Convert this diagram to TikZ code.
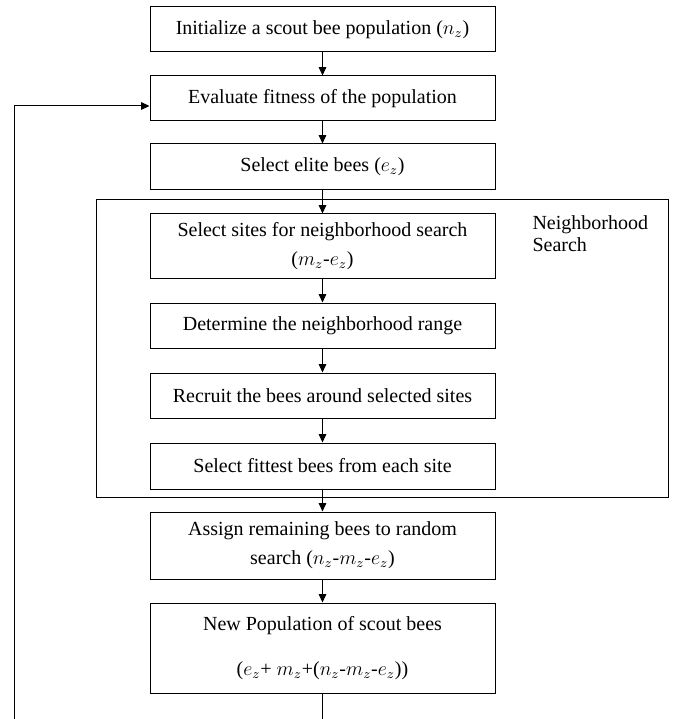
\documentclass[tikz,border=0pt]{standalone}
\usepackage{fontspec}
\setmainfont{Liberation Serif}
\usetikzlibrary{arrows.meta}
\begin{document}
\begin{tikzpicture}[x=0.6pt,y=-0.6pt,line width=0.6pt,>={Triangle[length=5pt,width=4.5pt]},
    stage node/.style={rectangle,draw,minimum width=207pt,align=center,inner sep=0pt,font=\fontsize{12}{17.4}\selectfont},
    label node/.style={anchor=north west,align=left,inner sep=0pt,font=\fontsize{12}{13.5}\selectfont}]
    \useasboundingbox (0,0) rectangle (673,719);

    \node[stage node,minimum height=27pt] at (322.5,29.5) (init) {Initialize a scout bee population ($n_z$)};
    \node[stage node,minimum height=27pt] at (322.5,98.5) (eval) {Evaluate fitness of the population};
    \node[stage node,minimum height=27.6pt] at (322.5,167) (elite) {Select elite bees ($e_z$)};
    \node[stage node,minimum height=39pt] at (322.5,246.5) (sites) {Select sites for neighborhood search\\($m_z$-$e_z$)};
    \node[stage node,minimum height=27pt] at (322.5,325.5) (range) {Determine the neighborhood range};
    \node[stage node,minimum height=27pt] at (322.5,395.5) (recruit) {Recruit the bees around selected sites};
    \node[stage node,minimum height=27.6pt] at (322.5,466) (fittest) {Select fittest bees from each site};
    \node[stage node,minimum height=40.2pt] at (322.5,545.5) (assign) {Assign remaining bees to random\\search ($n_z$-$m_z$-$e_z$)};
    \node[stage node,minimum height=54pt] at (322.5,648) (newpop) {New Population of scout bees\\[9.6pt]($e_z$+ $m_z$+($n_z$-$m_z$-$e_z$))};

    \draw (96,200) rectangle (668,497);
    \node[label node] at (532,215) (nslabel) {Neighborhood\\Search};

    \coordinate (loopend) at (322.5,719);
    \coordinate (loopstart) at (14,719);

    \path[->]
        (init) edge (eval)
        (eval) edge (elite)
        (elite) edge (sites)
        (sites) edge (range)
        (range) edge (recruit)
        (recruit) edge (fittest)
        (fittest) edge (assign)
        (assign) edge (newpop)
        ;
    \draw (newpop) -- (loopend);
    \draw[->] (loopstart) |- ([yshift=-4.5pt]eval.west);
\end{tikzpicture}
\end{document}
